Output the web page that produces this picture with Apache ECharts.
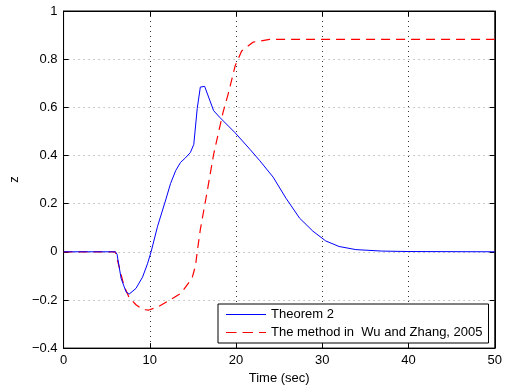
<!DOCTYPE html>
<html>
<head>
<meta charset="utf-8">
<script src="https://cdn.jsdelivr.net/npm/echarts@6/dist/echarts.min.js"></script>
<style>html,body{margin:0;padding:0;background:#fff}#c{width:505px;height:390px}</style>
</head>
<body>
<div id="c"></div>
<script>
// Theorem 2 (blue solid)
const timeThm = [0, 6.0, 6.2, 6.67, 7.24, 7.6, 8.4, 9.16, 9.73, 10.15, 10.9, 11.84, 12.4, 13.0, 13.56, 14.1, 14.7, 15.1, 15.5, 15.86, 16.36, 17.4, 18.2, 19.9, 21.6, 22.76, 24.3, 25.8, 27.36, 28.9, 30.4, 31.95, 33.9, 36.9, 40, 50];
const zThm = [0, 0, -0.01, -0.11, -0.166, -0.176, -0.152, -0.105, -0.05, 0, 0.106, 0.215, 0.283, 0.337, 0.371, 0.389, 0.412, 0.446, 0.596, 0.684, 0.687, 0.586, 0.555, 0.494, 0.426, 0.378, 0.31, 0.222, 0.14, 0.086, 0.045, 0.022, 0.009, 0.003, 0.001, 0];
// Wu and Zhang, 2005 (red dashed)
const timeWu = [0, 6.0, 6.5, 7.0, 7.6, 8.4, 9.16, 9.9, 11.0, 12.0, 13.6, 14.9, 15.3, 15.5, 15.86, 16.6, 17.4, 18.5, 19.1, 19.9, 20.65, 22.0, 23.9, 50];
const zWu = [0, 0, -0.07, -0.14, -0.19, -0.22, -0.24, -0.242, -0.228, -0.207, -0.173, -0.11, -0.057, 0.0, 0.093, 0.24, 0.405, 0.58, 0.657, 0.773, 0.834, 0.871, 0.882, 0.882];
const seriesNames = ['Theorem 2', 'The method in  Wu and Zhang, 2005'];
const xTicks = [0, 10, 20, 30, 40, 50];
const yTicks = [-0.4, -0.2, 0, 0.2, 0.4, 0.6, 0.8, 1];

const FONT = 'Liberation Sans, Arial, Helvetica, sans-serif';
const chart = echarts.init(document.getElementById('c'), null, {renderer: 'canvas'});
const pair = (xs, ys) => xs.map((x, i) => [x, ys[i]]);
const tickLabel = (v) => {
  const r = Math.round(v * 10) / 10;
  return r === 0 ? '0' : String(r).replace('-', '\u2212');
};
const baseAxis = {
  axisLine: {show: true, onZero: false, lineStyle: {color: '#000', width: 1}},
  axisTick: {show: true, inside: true, length: 5, lineStyle: {color: '#000'}},
};
const solidIcon = 'path://M0 0H40V1.2H0Z';
const dashIcon = 'path://M0 0H10.5V1.2H0Z M16.5 0H27V1.2H16.5Z M33 0H40V1.2H33Z';
chart.setOption({
  animation: false,
  backgroundColor: '#fff',
  grid: {left: 62, right: 8, top: 11, bottom: 36, show: true, borderColor: '#000', borderWidth: 1, backgroundColor: 'transparent'},
  legend: {
    orient: 'vertical', left: 218, top: 304,
    data: [
      {name: seriesNames[0], icon: solidIcon, itemStyle: {color: '#0000ff'}},
      {name: seriesNames[1], icon: dashIcon, itemStyle: {color: '#ff0000'}}
    ],
    itemWidth: 40, itemHeight: 13, itemGap: 5,
    padding: [4, 6, 4, 8],
    borderColor: '#000', borderWidth: 1, backgroundColor: '#fff',
    textStyle: {fontFamily: FONT, fontSize: 13, color: '#000'},
    selectedMode: false
  },
  xAxis: [
    Object.assign({}, baseAxis, {
      type: 'value', min: 0, max: 50, interval: 10, position: 'bottom',
      name: 'Time (sec)', nameLocation: 'middle', nameGap: 20,
      nameTextStyle: {fontFamily: FONT, fontSize: 13, color: '#000'},
      axisLabel: {fontFamily: FONT, fontSize: 13, color: '#000', margin: 6, formatter: v => xTicks.includes(v) ? String(v) : ''},
      splitLine: {show: true, lineStyle: {color: '#333', type: [1, 4], width: 1}}
    }),
    Object.assign({}, baseAxis, {
      type: 'value', min: 0, max: 50, interval: 10, position: 'top',
      axisLabel: {show: false}, splitLine: {show: false}
    })
  ],
  yAxis: [
    Object.assign({}, baseAxis, {
      type: 'value', min: -0.4, max: 1, interval: 0.2, position: 'left',
      name: 'z', nameLocation: 'middle', nameGap: 37, nameRotate: 90,
      nameTextStyle: {fontFamily: FONT, fontSize: 13, color: '#000'},
      axisLabel: {fontFamily: FONT, fontSize: 13, color: '#000', margin: 6, formatter: tickLabel},
      splitLine: {show: true, lineStyle: {color: '#999', type: [1, 4], width: 1}}
    }),
    Object.assign({}, baseAxis, {
      type: 'value', min: -0.4, max: 1, interval: 0.2, position: 'right',
      axisLabel: {show: false}, splitLine: {show: false}
    })
  ],
  series: [
    {
      name: seriesNames[0], type: 'line', data: pair(timeThm, zThm),
      symbol: 'none', smooth: false, z: 3,
      lineStyle: {color: '#0000ff', width: 1},
      itemStyle: {color: '#0000ff'}
    },
    {
      name: seriesNames[1], type: 'line', data: pair(timeWu, zWu),
      symbol: 'none', smooth: false, z: 2,
      lineStyle: {color: '#ff0000', width: 1.2, type: [9, 6]},
      itemStyle: {color: '#ff0000'}
    }
  ]
});
</script>
</body>
</html>
